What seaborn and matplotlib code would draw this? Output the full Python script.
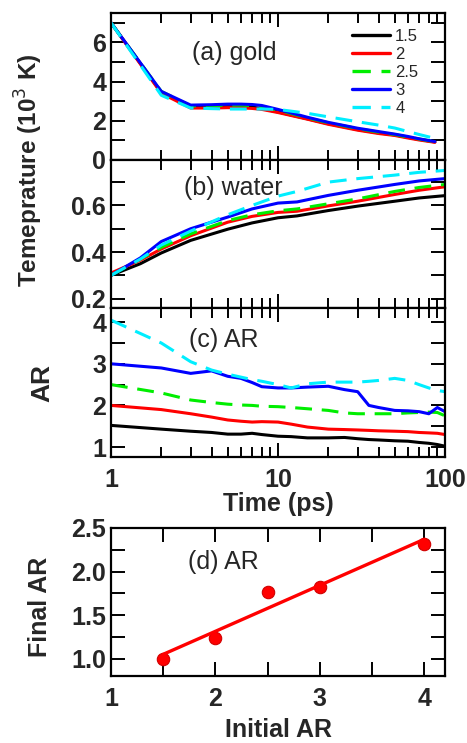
"""
Gold nanorod cooling: temperatures of gold and water, aspect ratio vs time,
and final vs initial aspect ratio.
"""
import matplotlib
matplotlib.use("Agg")
import matplotlib.pyplot as plt
from matplotlib.ticker import LogLocator, MultipleLocator, NullFormatter, FormatStrFormatter
import seaborn as sns
import pandas as pd
import numpy as np

sns.set_theme(style="ticks")
plt.rcParams["font.family"] = ["Liberation Sans", "DejaVu Sans"]

AR_LABELS = ["1.5", "2", "2.5", "3", "4"]
COLORS = ["black", "#ff0000", "#00ee00", "#0000ff", "#00eeff"]
DASHED = [False, False, True, False, True]

# (a) gold temperature (10^3 K)
T_GOLD = [1, 2, 3, 4, 5, 6, 7, 8, 10, 15, 20, 30, 40, 50, 60, 70, 87]
GOLD = {
    "1.5": [7.0, 3.45, 2.7, 2.7, 2.72, 2.72, 2.7, 2.62, 2.45, 2.1, 1.85, 1.55, 1.38, 1.28, 1.15, 1.05, 0.92],
    "2":   [7.0, 3.4, 2.65, 2.65, 2.67, 2.66, 2.63, 2.58, 2.42, 2.08, 1.82, 1.52, 1.35, 1.25, 1.12, 1.02, 0.9],
    "2.5": [7.0, 3.5, 2.75, 2.77, 2.8, 2.8, 2.78, 2.72, 2.55, 2.15, 1.9, 1.6, 1.42, 1.3, 1.17, 1.07, 0.93],
    "3":   [7.0, 3.5, 2.8, 2.82, 2.85, 2.85, 2.83, 2.78, 2.58, 2.18, 1.92, 1.62, 1.45, 1.32, 1.2, 1.08, 0.94],
    "4":   [7.0, 3.3, 2.65, 2.62, 2.6, 2.6, 2.6, 2.6, 2.58, 2.38, 2.2, 1.95, 1.78, 1.63, 1.45, 1.3, 1.1],
}

# (b) water temperature (10^3 K)
T_WATER = [1, 1.5, 2, 3, 5, 7, 10, 13, 20, 30, 50, 70, 100]
WATER = {
    "1.5": [0.30, 0.35, 0.396, 0.45, 0.498, 0.525, 0.547, 0.555, 0.578, 0.597, 0.618, 0.632, 0.642],
    "2":   [0.31, 0.365, 0.413, 0.47, 0.528, 0.553, 0.57, 0.575, 0.598, 0.618, 0.647, 0.665, 0.68],
    "2.5": [0.30, 0.37, 0.42, 0.478, 0.535, 0.56, 0.577, 0.585, 0.607, 0.628, 0.66, 0.677, 0.69],
    "3":   [0.30, 0.375, 0.445, 0.5, 0.55, 0.585, 0.61, 0.615, 0.643, 0.665, 0.69, 0.705, 0.715],
    "4":   [0.30, 0.37, 0.43, 0.49, 0.56, 0.60, 0.64, 0.66, 0.70, 0.715, 0.73, 0.742, 0.75],
}

# (c) aspect ratio
T_AR = [1, 2, 3, 4, 5, 6, 7, 8, 10, 12, 15, 20, 25, 30, 35, 40, 50, 60, 70, 80, 90, 100]
AR = {
    "1.5": [1.52, 1.43, 1.38, 1.35, 1.31, 1.31, 1.33, 1.3, 1.26, 1.25, 1.22, 1.22, 1.23, 1.2, 1.18, 1.17, 1.15, 1.14, 1.11, 1.09, 1.06, 1.02],
    "2":   [2.0, 1.9, 1.8, 1.72, 1.65, 1.62, 1.6, 1.61, 1.6, 1.55, 1.48, 1.43, 1.42, 1.41, 1.4, 1.39, 1.38, 1.37, 1.35, 1.34, 1.33, 1.3],
    "2.5": [2.5, 2.3, 2.13, 2.07, 2.03, 2.01, 2.0, 1.98, 1.97, 1.95, 1.92, 1.88, 1.82, 1.8, 1.8, 1.8, 1.8, 1.82, 1.83, 1.84, 1.83, 1.75],
    "3":   [3.0, 2.9, 2.77, 2.83, 2.7, 2.65, 2.55, 2.45, 2.42, 2.42, 2.44, 2.46, 2.38, 2.33, 2.0, 1.95, 1.88, 1.87, 1.85, 1.8, 1.95, 1.85],
    "4":   [4.05, 3.5, 3.05, 2.85, 2.75, 2.68, 2.62, 2.58, 2.5, 2.42, 2.52, 2.56, 2.56, 2.56, 2.58, 2.6, 2.65, 2.6, 2.5, 2.42, 2.36, 2.33],
}

# (d) final vs initial aspect ratio
INIT_AR = [1.5, 2.0, 2.5, 3.0, 4.0]
FINAL_AR = [1.0, 1.24, 1.77, 1.82, 2.32]

TICK_FS = 18
LABEL_FS = 18
NOTE_FS = 18


def long_df(t, series):
    rows = []
    for lab, vals in series.items():
        rows += [{"t": x, "v": v, "ar": lab} for x, v in zip(t, vals)]
    return pd.DataFrame(rows)


def style_axis(ax, log=True):
    for s in ax.spines.values():
        s.set_linewidth(1.6)
        s.set_color("black")
    ax.tick_params(which="both", direction="in", top=True, right=True,
                   width=1.4, color="black", labelsize=TICK_FS)
    ax.tick_params(which="major", length=10)
    ax.tick_params(which="minor", length=7 if log else 10)
    ax.tick_params(axis="y", which="minor", length=10)
    for lab in ax.get_xticklabels() + ax.get_yticklabels():
        lab.set_fontweight("bold")


def draw_series(ax, df, legend=False):
    palette = dict(zip(AR_LABELS, COLORS))
    dashes = {k: ((5.5, 3.2) if d else "") for k, d in zip(AR_LABELS, DASHED)}
    sns.lineplot(data=df, x="t", y="v", hue="ar", style="ar", palette=palette,
                 dashes=dashes, hue_order=AR_LABELS, style_order=AR_LABELS,
                 lw=2.2, ax=ax, legend=legend, estimator=None, sort=False)
    ax.set_xscale("log")
    ax.set_xlim(1, 100)
    ax.xaxis.set_minor_locator(LogLocator(base=10, subs=np.arange(2, 10)))
    ax.set_xlabel("")
    ax.set_ylabel("")


def note(ax, x, y, s):
    ax.text(x, y, s, transform=ax.transAxes, fontsize=NOTE_FS, va="center")


def main():
    fig = plt.figure(figsize=(4.67, 7.43), dpi=100)
    L, W = 0.2377, 0.7152
    ax_a = fig.add_axes([L, 0.7847, W, 0.1978])
    ax_b = fig.add_axes([L, 0.5855, W, 0.1992])
    ax_c = fig.add_axes([L, 0.3849, W, 0.2005])
    ax_d = fig.add_axes([L, 0.0902, W, 0.1992])

    draw_series(ax_a, long_df(T_GOLD, GOLD), legend=True)
    ax_a.set_ylim(0, 7.5)
    ax_a.yaxis.set_major_locator(MultipleLocator(2))
    ax_a.yaxis.set_minor_locator(MultipleLocator(1))
    leg = ax_a.legend(loc="upper right", frameon=False, fontsize=12, handlelength=2.3,
                      handletextpad=0.3, labelspacing=0.18, borderaxespad=0.2,
                      bbox_to_anchor=(0.95, 0.96))
    for h in leg.get_lines():
        h.set_linewidth(2.4)
    note(ax_a, 0.243, 0.73, "(a) gold")

    draw_series(ax_b, long_df(T_WATER, WATER))
    ax_b.set_ylim(0.16, 0.795)
    ax_b.yaxis.set_major_locator(MultipleLocator(0.2))
    ax_b.yaxis.set_minor_locator(MultipleLocator(0.1))
    note(ax_b, 0.22, 0.81, "(b) water")

    draw_series(ax_c, long_df(T_AR, AR))
    ax_c.set_ylim(0.76, 4.34)
    ax_c.yaxis.set_major_locator(MultipleLocator(1))
    ax_c.yaxis.set_minor_locator(MultipleLocator(0.5))
    ax_c.set_xticks([1, 10, 100], ["1", "10", "100"])
    note(ax_c, 0.235, 0.785, "(c) AR")
    ax_c.set_ylabel("AR", fontsize=LABEL_FS + 1, fontweight="bold", va="center")
    ax_c.yaxis.set_label_coords(-0.207, 0.5)
    ax_c.set_xlabel("Time (ps)", fontsize=LABEL_FS, fontweight="bold", va="center")
    ax_c.xaxis.set_label_coords(0.5, -0.315)

    for ax in (ax_a, ax_b):
        ax.xaxis.set_major_formatter(NullFormatter())
        ax.xaxis.set_minor_formatter(NullFormatter())
    ax_c.xaxis.set_minor_formatter(NullFormatter())
    for ax in (ax_a, ax_b, ax_c):
        style_axis(ax)
        ax.tick_params(axis="x", which="major", pad=8)

    # (d) final vs initial
    sns.regplot(x=INIT_AR, y=FINAL_AR, ci=None, ax=ax_d, color="#ff0000",
                scatter_kws={"s": 80, "edgecolor": "#d00000", "linewidths": 0.8, "alpha": 1},
                line_kws={"lw": 2.4})
    ax_d.set_xlim(1, 4.2)
    ax_d.set_ylim(0.8, 2.5)
    ax_d.xaxis.set_major_locator(MultipleLocator(1))
    ax_d.xaxis.set_minor_locator(MultipleLocator(0.5))
    ax_d.yaxis.set_major_locator(MultipleLocator(0.5))
    ax_d.yaxis.set_minor_locator(MultipleLocator(0.25))
    ax_d.yaxis.set_major_formatter(FormatStrFormatter("%.1f"))
    note(ax_d, 0.232, 0.77, "(d) AR")
    ax_d.set_xlabel("Initial AR", fontsize=LABEL_FS, fontweight="bold", va="center")
    ax_d.xaxis.set_label_coords(0.5, -0.365)
    ax_d.set_ylabel("Final AR", fontsize=LABEL_FS, fontweight="bold", va="center")
    ax_d.yaxis.set_label_coords(-0.213, 0.47)
    style_axis(ax_d, log=False)
    ax_d.tick_params(axis="x", which="major", pad=8)

    fig.text(0.062, 1 - 170 / 743, "Temeprature (10$^3$ K)", rotation=90,
             ha="center", va="center", fontsize=17.5, fontweight="bold")

    fig.savefig("out.png", dpi=100)
    plt.close(fig)


if __name__ == "__main__":
    main()
